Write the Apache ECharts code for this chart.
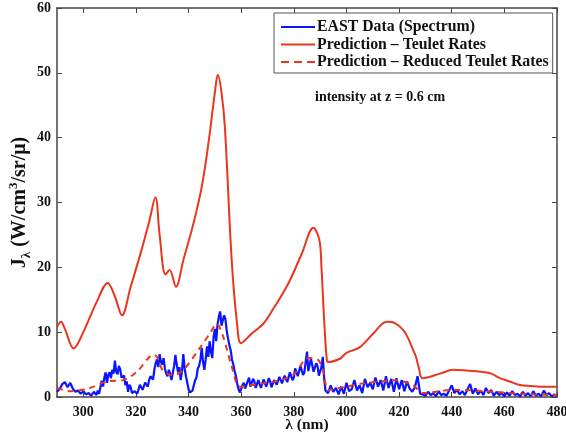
<!DOCTYPE html>
<html>
<head>
<meta charset="utf-8">
<script src="https://cdn.jsdelivr.net/npm/echarts@6/dist/echarts.min.js"></script>
<style>html,body{margin:0;padding:0;background:#fff}#c{width:566px;height:436px}</style>
</head>
<body>
<div id="c"></div>
<script>
// Prediction – Teulet Rates (solid red)
var teuletX = [290,291.5,293,296.3,300,305,309.3,312,314.7,318,322,325,327.4,329,331.2,332.8,335.2,338,342,345,347.5,350,351.1,352.5,353.8,356.4,358.5,359.9,364,368.4,372.2,377.9,383,387.4,389.7,390.5,391.5,392.5,393,397.5,400,405.1,410.2,415.3,418.4,421.6,423.5,425.4,426.4,427.5,428.9,435.5,440.6,450.7,455,458.3,462,465.9,470,473.5,480];
var teuletY = [10.8,11.6,10.5,7.5,10,14.6,17.6,15.5,12.6,17,22.5,27,30.8,25,18.9,19.6,17.0,21.1,27,32.4,39,47,49.7,47,41.6,21,11,8.3,9.8,11.3,13.6,17.5,22.1,26.1,24.2,20,12,5.8,5.4,5.9,6.8,7.7,9.8,11.6,11.4,10.3,9.0,7.2,6.2,4.5,2.9,3.6,4.2,3.9,3.6,2.9,2.4,1.85,1.7,1.6,1.6];

// Prediction – Reduced Teulet Rates (dashed red)
var reducedX = [290,295,302.5,309,315.3,320.4,326.7,328,330.5,334.3,338.1,344.5,348.1,350.7,353,356.4,359.5,365,370,375,380,385.5,389.3,391.3,392.8,393.7,400,406.4,413,419,425.4,429,440.6,453,465.9,480];
var reducedY = [1.4,0.9,1.4,2.4,2.6,3.9,6.5,6.2,3.9,3.4,4.2,7.7,9.8,11.3,9.5,4.7,1.6,1.9,2.2,2.6,3.5,6.0,5.7,3.7,1.0,1.1,1.6,2.1,2.4,2.6,1.8,0.6,1.1,0.9,0.5,0.3];

// EAST Data (Spectrum) (blue)
// part A: 290..304, step 1 nm
var eastA = [0.8,1.2,2.0,2.3,1.5,2.2,1.3,0.8,1.0,0.5,0.9,0.4,0.6,0.2,0.8];
// part B: 305..392, step 0.5 nm
var eastB = [
0.3,1.0, 0.5,1.5, 2.5,1.6, 3.0,3.8, 2.2,3.4, 3.8,2.9, 4.2,3.6, 5.6,3.9, 3.5,4.8, 4.3,3.0,
2.8,3.3, 1.8,2.4, 0.8,1.9, 1.5,0.6, 0.3,0.9, 1.2,0.5, 0.8,1.9, 1.6,1.1, 1.3,2.2, 2.0,1.6,
2.6,3.2, 3.4,2.7, 4.2,5.2, 5.8,4.6, 6.6,5.4, 5.0,6.0, 4.4,3.6, 3.2,4.2, 3.6,2.6, 2.8,4.8,
6.5,5.0, 3.8,4.6, 2.6,4.0, 6.6,4.4, 3.2,2.2, 1.2,0.7, 0.5,1.0, 1.8,2.6, 3.0,4.4, 4.8,5.8,
7.6,5.4, 4.2,5.8, 7.8,6.2, 8.6,7.0, 6.0,9.2, 10.5,8.6, 11.2,12.4, 13.2,11.0, 10.8,12.6, 12.0,10.2,
9.0,8.0, 7.2,5.8, 5.0,4.0, 3.2,2.0, 1.2,0.7, 0.8,1.8, 2.2,1.3, 1.6,2.5, 3.0,1.6, 1.9,2.8,
2.4,1.4, 1.5,2.6, 2.3,1.4, 1.7,2.7, 2.6,1.6, 1.8,2.9, 2.4,1.5, 1.6,2.6, 2.8,1.9, 2.2,3.1,
3.0,2.1, 2.0,3.3, 3.2,2.3, 2.4,3.8, 3.6,2.6, 3.0,4.4, 4.2,3.2, 3.5,4.8, 5.0,3.4, 3.8,5.4,
7.0,4.0, 4.2,5.9, 5.6,3.9, 3.6,5.2, 4.8,3.3, 3.4,4.6, 6.2,3.0, 1.0];
// part C: 393..480, step 1 nm
var eastC = [
0.6,1.8,0.8,1.4,0.4,1.6,0.5,
2.2,0.9,1.2,2.6,1.0,1.8,0.6,2.8,1.5,2.2,
1.2,3.0,1.6,2.6,1.0,3.2,1.4,2.8,0.8,2.9,
1.2,2.6,0.9,2.4,1.3,0.8,1.5,3.2,0.5,0.4,
0.2,0.8,0.3,0.6,0.1,0.9,0.3,0.5,0.2,1.0,
1.8,0.6,1.1,0.4,0.9,0.3,1.2,2.0,0.5,1.3,
0.4,1.0,0.3,1.4,0.6,1.1,0.2,0.8,0.3,0.6,
0.1,0.7,0.2,0.9,0.3,0.5,0.1,0.8,0.2,0.6,
0.1,0.9,0.2,0.5,0.1,1.0,0.3,0.6,0.1,0.4,
0.2];

var xTicks = [300,320,340,360,380,400,420,440,460,480];
var seriesNames = ['EAST Data (Spectrum)','Prediction \u2013 Teulet Rates','Prediction \u2013 Reduced Teulet Rates'];

function zip(xs, ys){ return xs.map(function(x,i){ return [x, ys[i]]; }); }
function gridded(start, step, ys){ return ys.map(function(v,i){ return [start + i*step, v]; }); }
var eastData = gridded(290,1,eastA).concat(gridded(305,0.5,eastB), gridded(393,1,eastC));

var RED = '#e8361f', BLUE = '#0a14ff', AX = '#444';
var FONT = '"Liberation Serif","DejaVu Serif",serif';

var chart = echarts.init(document.getElementById('c'), null, {renderer:'canvas'});
var axisCommon = {
  axisLine:{show:true, onZero:false, lineStyle:{color:AX, width:1.5}},
  splitLine:{show:false}
};
chart.setOption({
  animation:false,
  backgroundColor:'#fff',
  grid:{left:57, right:9, top:8, bottom:39, containLabel:false, outerBoundsMode:'none'},
  legend:{
    orient:'vertical', left:274, top:13,
    data:[
      {name:seriesNames[0], icon:'path://M0,0H34V2H0Z'},
      {name:seriesNames[1], icon:'path://M0,0H34V2H0Z'},
      {name:seriesNames[2], icon:'path://M0,0H8V2H0Z M13,0H21V2H13Z M26,0H34V2H26Z'}
    ],
    backgroundColor:'#fff', borderColor:'#555', borderWidth:1,
    padding:[6,4,3,7], itemGap:1.5, itemWidth:34, itemHeight:2,
    textStyle:{fontFamily:FONT, fontWeight:'bold', fontSize:15.8, lineHeight:16, color:'#111', padding:[0,0,0,-3]}
  },
  xAxis:[
    Object.assign({type:'value', min:290, max:480, position:'bottom',
      axisTick:{show:true, inside:true, length:5, customValues:xTicks, lineStyle:{color:AX}},
      axisLabel:{show:true, customValues:xTicks, fontFamily:FONT, fontWeight:'bold', fontSize:14, color:'#111', margin:8},
      name:'\u03bb (nm)', nameLocation:'middle', nameGap:20, nameMoveOverlap:false,
      nameTextStyle:{fontFamily:FONT, fontWeight:'bold', fontSize:15.5, color:'#111'}
    }, axisCommon),
    Object.assign({type:'value', min:290, max:480, position:'top',
      axisTick:{show:true, inside:true, length:5, customValues:xTicks, lineStyle:{color:AX}},
      axisLabel:{show:false}
    }, axisCommon)
  ],
  yAxis:[
    Object.assign({type:'value', min:0, max:60, interval:10, position:'left',
      axisTick:{show:true, inside:true, length:5, lineStyle:{color:AX}},
      axisLabel:{fontFamily:FONT, fontWeight:'bold', fontSize:14, color:'#111', margin:6},
      name:'{b|J}{s|\u03bb}{b| (W/cm}{p|3}{b|/sr/\u03bc)}', nameLocation:'middle', nameGap:24, nameRotate:90, nameMoveOverlap:false,
      nameTextStyle:{
        rich:{
          b:{fontFamily:FONT, fontWeight:'bold', fontSize:20, color:'#111', lineHeight:26, verticalAlign:'middle'},
          s:{fontFamily:FONT, fontWeight:'bold', fontSize:13, color:'#111', lineHeight:26, verticalAlign:'bottom'},
          p:{fontFamily:FONT, fontWeight:'bold', fontSize:13, color:'#111', lineHeight:26, verticalAlign:'top'}
        }
      }
    }, axisCommon),
    Object.assign({type:'value', min:0, max:60, interval:10, position:'right',
      axisTick:{show:true, inside:true, length:5, lineStyle:{color:AX}},
      axisLabel:{show:false}
    }, axisCommon)
  ],
  graphic:[{
    type:'text', left:315, top:90,
    style:{text:'intensity at z = 0.6 cm', font:'bold 14px ' + FONT, fill:'#111'}
  }],
  series:[
    {name:seriesNames[0], type:'line', data:eastData, symbol:'none', z:3,
     lineStyle:{color:BLUE, width:2.2}, itemStyle:{color:BLUE}},
    {name:seriesNames[1], type:'line', data:zip(teuletX, teuletY), symbol:'none', smooth:0.35, z:2,
     lineStyle:{color:RED, width:2}, itemStyle:{color:RED}},
    {name:seriesNames[2], type:'line', data:zip(reducedX, reducedY), symbol:'none', smooth:0.3, z:4,
     lineStyle:{color:RED, width:2, type:[6,5]}, itemStyle:{color:RED}}
  ]
});
</script>
</body>
</html>
